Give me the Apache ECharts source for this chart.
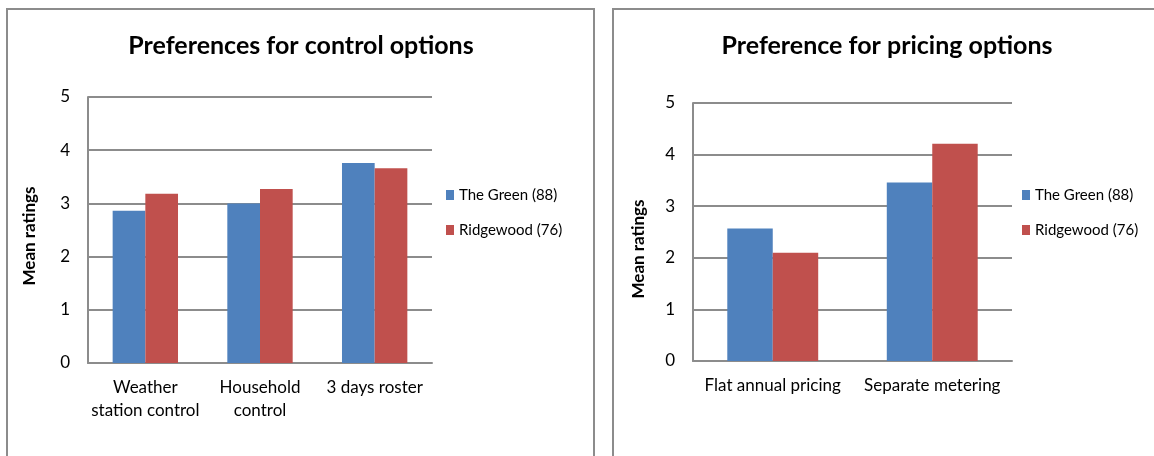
<!DOCTYPE html>
<html>
<head>
<meta charset="utf-8">
<script src="https://cdn.jsdelivr.net/npm/echarts@6/dist/echarts.min.js"></script>
<style>
  html, body { margin: 0; padding: 0; background: #ffffff; }
  #chart { width: 1154px; height: 456px; }
</style>
</head>
<body>
<div id="chart"></div>
<script>
// Mean ratings for the two survey groups
const seriesNames = ['The Green (88)', 'Ridgewood (76)'];

// Control options panel
const controlCategories = ['Weather\nstation control', 'Household\ncontrol', '3 days roster'];
const controlGreen = [2.86, 3.00, 3.76];
const controlRidgewood = [3.18, 3.27, 3.66];

// Pricing options panel
const pricingCategories = ['Flat annual pricing', 'Separate metering'];
const pricingGreen = [2.57, 3.46];
const pricingRidgewood = [2.10, 4.21];

const colors = ['#4F81BD', '#C0504D'];
const FONT = 'Lato';
const gridColor = '#8c8c8c';

const chart = echarts.init(document.getElementById('chart'), null, { renderer: 'canvas' });

function valueAxis(gridIndex) {
  return {
    type: 'value', gridIndex: gridIndex, min: 0, max: 5, interval: 1,
    axisLine: { show: true, lineStyle: { color: gridColor, width: 2 } },
    axisTick: { show: false },
    splitLine: { show: true, lineStyle: { color: gridColor, width: 2 } },
    axisLabel: { margin: 18, color: '#000', fontFamily: FONT, fontSize: 17 }
  };
}
function categoryAxis(gridIndex, data) {
  return {
    type: 'category', gridIndex: gridIndex, data: data,
    axisLine: { show: true, lineStyle: { color: gridColor, width: 2 } },
    axisTick: { show: false },
    axisLabel: { margin: 13, color: '#000', fontFamily: FONT, fontSize: 17, lineHeight: 23, interval: 0 }
  };
}
function bars(name, data, idx, color) {
  return {
    name: name, type: 'bar', data: data,
    xAxisIndex: idx, yAxisIndex: idx,
    barGap: '0%', barCategoryGap: '43%',
    itemStyle: { color: color },
    emphasis: { disabled: true }
  };
}
function legendAt(left) {
  return {
    orient: 'vertical', left: left, top: 187, padding: 0, data: seriesNames,
    icon: 'rect', itemWidth: 8, itemHeight: 10, itemGap: 19,
    selectedMode: false,
    textStyle: { color: '#000', fontFamily: FONT, fontSize: 15, lineHeight: 16 }
  };
}

chart.setOption({
  animation: false,
  color: colors,
  title: [
    { text: 'Preferences for control options', left: 301, top: 33, textAlign: 'center', padding: 0,
      textStyle: { fontFamily: FONT, fontWeight: 'bold', fontSize: 25, color: '#000' } },
    { text: 'Preference for pricing options', left: 887, top: 33, textAlign: 'center', padding: 0,
      textStyle: { fontFamily: FONT, fontWeight: 'bold', fontSize: 25, color: '#000' } }
  ],
  legend: [legendAt(446), legendAt(1022)],
  grid: [
    { left: 88, right: 722, top: 97, bottom: 93 },
    { left: 693, right: 142, top: 103, bottom: 95 }
  ],
  xAxis: [categoryAxis(0, controlCategories), categoryAxis(1, pricingCategories)],
  yAxis: [valueAxis(0), valueAxis(1)],
  series: [
    bars(seriesNames[0], controlGreen, 0, colors[0]),
    bars(seriesNames[1], controlRidgewood, 0, colors[1]),
    bars(seriesNames[0], pricingGreen, 1, colors[0]),
    bars(seriesNames[1], pricingRidgewood, 1, colors[1])
  ],
  graphic: [
    // panel frames
    { type: 'rect', shape: { x: 7, y: 9, width: 587, height: 460 }, silent: true,
      style: { fill: 'none', stroke: '#8c8c8c', lineWidth: 2 } },
    { type: 'rect', shape: { x: 613, y: 9, width: 560, height: 460 }, silent: true,
      style: { fill: 'none', stroke: '#8c8c8c', lineWidth: 2 } },
    // value-axis titles
    { type: 'text', x: 30, y: 236, rotation: Math.PI / 2, silent: true,
      style: { text: 'Mean ratings', fontFamily: FONT, fontWeight: 'bold', fontSize: 17, fill: '#000',
               align: 'center', verticalAlign: 'middle' } },
    { type: 'text', x: 639, y: 249, rotation: Math.PI / 2, silent: true,
      style: { text: 'Mean ratings', fontFamily: FONT, fontWeight: 'bold', fontSize: 17, fill: '#000',
               align: 'center', verticalAlign: 'middle' } }
  ]
});
</script>
</body>
</html>
